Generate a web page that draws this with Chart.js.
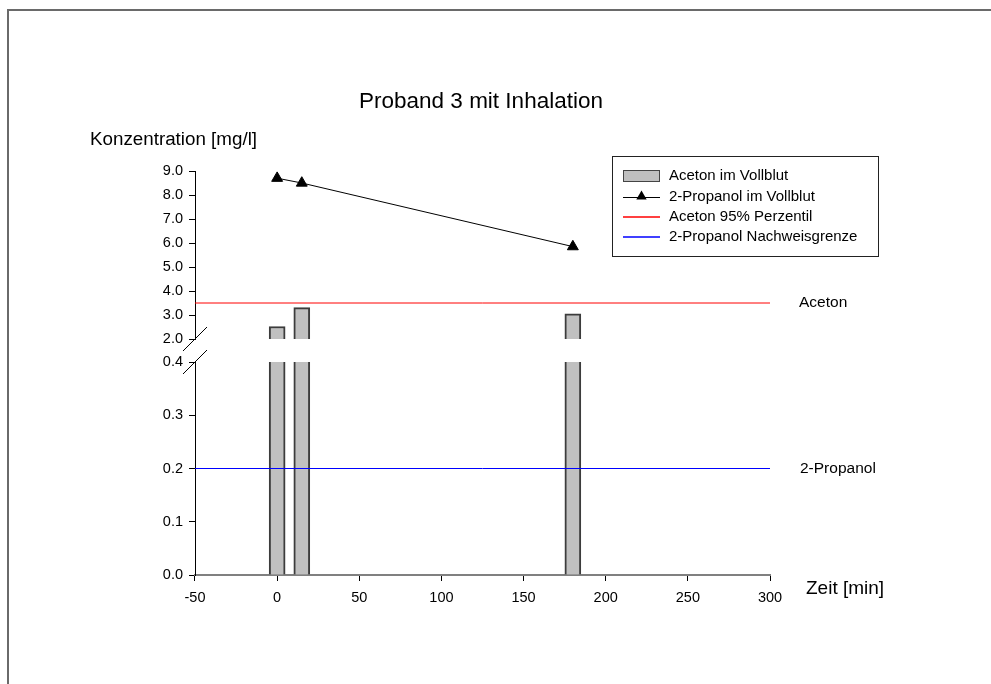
<!DOCTYPE html>
<html>
<head>
<meta charset="utf-8">
<title>Proband 3 mit Inhalation</title>
<script src="https://cdn.jsdelivr.net/npm/chart.js@4.4.0/dist/chart.umd.min.js"></script>
<style>
  html, body { margin: 0; padding: 0; background: #fff; }
  #wrap { position: relative; width: 991px; height: 684px; overflow: hidden; }
</style>
</head>
<body>
<div id="wrap"><canvas id="grafikProband3" width="991" height="684"></canvas></div>
<script>
// Messzeitpunkte und Konzentrationen
const zeitMin = [0, 15, 180];
const acetonVollblut = [2.52, 3.31, 3.05];
const propanolVollblut = [8.7, 8.5, 5.85];
const acetonPerzentil = 3.5;
const propanolGrenze = 0.2;

// Achsenbereiche (y-Achse unterbrochen zwischen 0.4 und 2.0)
const zeitBereich = [-50, 300];
const bereichOben = [2, 9];
const bereichUnten = [0, 0.4];

const legendenText = ['Aceton im Vollblut', '2-Propanol im Vollblut', 'Aceton 95% Perzentil', '2-Propanol Nachweisgrenze'];
const linienText = ['Aceton', '2-Propanol'];

const SCHRIFT = '"Liberation Sans", Arial, sans-serif';
Chart.defaults.font.family = SCHRIFT;
Chart.defaults.color = '#000';

const ROT = '#ff0000';
const BLAU = '#0000ff';

// Balken auf beide Achsenabschnitte verteilen
const balkenOben = zeitMin.map((t, i) => ({ x: t, y: [bereichOben[0], acetonVollblut[i]] }));
const balkenUnten = zeitMin.map((t, i) => ({ x: t, y: [bereichUnten[0], Math.min(acetonVollblut[i], bereichUnten[1])] }));

//Beschriftungen, Achsenbruch und Legende
const beschriftung = {
    id: 'beschriftung',
    afterDraw(chart) {
        const ctx = chart.ctx;
        const { yOben, yUnten } = chart.scales;
        const area = chart.chartArea;
        ctx.save();

        // Rahmen
        ctx.strokeStyle = '#6a6a6a';
        ctx.lineWidth = 2;
        ctx.beginPath();
        ctx.moveTo(8, 684);
        ctx.lineTo(8, 10);
        ctx.lineTo(991, 10);
        ctx.stroke();

        ctx.fillStyle = '#000';
        ctx.textBaseline = 'middle';
        ctx.textAlign = 'center';
        ctx.font = '22.5px ' + SCHRIFT;
        ctx.fillText('Proband 3 mit Inhalation', 481, 102);

        ctx.textAlign = 'left';
        ctx.font = '18.8px ' + SCHRIFT;
        ctx.fillText('Konzentration [mg/l]', 90, 140);
        ctx.font = '19px ' + SCHRIFT;
        ctx.fillText('Zeit [min]', 806, 589);

        ctx.font = '15.5px ' + SCHRIFT;
        ctx.fillText(linienText[0], 799, yOben.getPixelForValue(acetonPerzentil));
        ctx.fillText(linienText[1], 800, yUnten.getPixelForValue(propanolGrenze));

        // Achsenbruch
        ctx.strokeStyle = '#000';
        ctx.lineWidth = 1;
        [yOben.getPixelForValue(bereichOben[0]), yUnten.getPixelForValue(bereichUnten[1])].forEach(y => {
            ctx.beginPath();
            ctx.moveTo(area.left - 12, y + 12);
            ctx.lineTo(area.left + 12, y - 12);
            ctx.stroke();
        });

        // Legende
        const lx = 612, ly = 156;
        ctx.strokeStyle = '#222';
        ctx.strokeRect(lx + 0.5, ly + 0.5, 266, 100);
        const zeilen = [176, 196.5, 216.5, 236.5];
        ctx.font = '15px ' + SCHRIFT;
        ctx.fillStyle = '#000';
        legendenText.forEach((txt, i) => ctx.fillText(txt, 669, zeilen[i]));

        ctx.fillStyle = '#c0c0c0';
        ctx.fillRect(623, zeilen[0] - 6, 37, 12);
        ctx.strokeStyle = '#444';
        ctx.strokeRect(623.5, zeilen[0] - 5.5, 36, 11);

        const farben = ['#000', ROT, BLAU];
        farben.forEach((f, i) => {
            const y = i === 0 ? Math.round(zeilen[1]) + 0.5 : Math.round(zeilen[i + 1]);
            ctx.strokeStyle = f;
            ctx.lineWidth = i === 0 ? 1 : 1.3;
            ctx.beginPath();
            ctx.moveTo(623, y);
            ctx.lineTo(660, y);
            ctx.stroke();
        });
        ctx.fillStyle = '#000';
        ctx.beginPath();
        const r = 6, cx = 641.5, cy = zeilen[1];
        ctx.moveTo(cx, cy - r);
        ctx.lineTo(cx + r * 0.866, cy + r / 2);
        ctx.lineTo(cx - r * 0.866, cy + r / 2);
        ctx.closePath();
        ctx.fill();

        ctx.restore();
    }
};

const tickFont = { size: 14.5, family: SCHRIFT };
const yTicks = (schritt) => ({
    stepSize: schritt,
    color: '#000',
    font: tickFont,
    padding: 6,
    autoSkip: false,
    callback: v => Number(v).toFixed(1)
});
const yGrid = { drawOnChartArea: false, drawTicks: true, tickLength: 6, color: '#000' };

const ctx = document.getElementById('grafikProband3').getContext('2d');
new Chart(ctx, {
    type: 'bar',
    data: {
        datasets: [
            {
                type: 'line',
                label: legendenText[1],
                data: zeitMin.map((t, i) => ({ x: t, y: propanolVollblut[i] })),
                yAxisID: 'yOben',
                borderColor: '#000',
                backgroundColor: '#000',
                borderWidth: 1,
                pointStyle: 'triangle',
                pointRadius: 6.3,
                pointBorderWidth: 1,
                tension: 0
            },
            {
                type: 'line',
                label: legendenText[2],
                data: zeitBereich.map(t => ({ x: t, y: acetonPerzentil })),
                yAxisID: 'yOben',
                borderColor: ROT,
                borderWidth: 1,
                pointRadius: 0
            },
            {
                type: 'line',
                label: legendenText[3],
                data: zeitBereich.map(t => ({ x: t, y: propanolGrenze })),
                yAxisID: 'yUnten',
                borderColor: BLAU,
                borderWidth: 1,
                pointRadius: 0
            },
            {
                label: legendenText[0],
                data: balkenOben,
                yAxisID: 'yOben',
                grouped: false,
                barThickness: 16,
                backgroundColor: '#c0c0c0',
                borderColor: '#3c3c3c',
                borderWidth: { top: 2, left: 2, right: 2, bottom: 0 },
                borderSkipped: false
            },
            {
                label: legendenText[0],
                data: balkenUnten,
                yAxisID: 'yUnten',
                grouped: false,
                barThickness: 16,
                backgroundColor: '#c0c0c0',
                borderColor: '#3c3c3c',
                borderWidth: { top: 0, left: 2, right: 2, bottom: 0 },
                borderSkipped: false
            }
        ]
    },
    options: {
        responsive: false,
        animation: false,
        layout: { padding: { left: 145, right: 221, top: 171, bottom: 74 } },
        plugins: { legend: { display: false }, tooltip: { enabled: false } },
        scales: {
            x: {
                type: 'linear',
                position: 'bottom',
                offset: false,
                min: zeitBereich[0],
                max: zeitBereich[1],
                ticks: { stepSize: 50, color: '#000', font: tickFont, padding: 8, maxRotation: 0 },
                grid: { offset: false, drawOnChartArea: false, drawTicks: true, tickLength: 6, color: '#000' },
                border: { color: '#808080', width: 2 },
                afterFit: s => { s.height = 35; }
            },
            // gestapelte y-Achsen: zuletzt definierte liegt oben
            yUnten: {
                type: 'linear',
                position: 'left',
                stack: 'y',
                stackWeight: 213,
                min: bereichUnten[0],
                max: bereichUnten[1],
                ticks: yTicks(0.1),
                grid: yGrid,
                border: { color: '#000', width: 1 },
                afterFit: s => { s.width = 50; }
            },
            yLuecke: {
                type: 'linear',
                position: 'left',
                stack: 'y',
                stackWeight: 23,
                min: 0,
                max: 1,
                ticks: { display: false },
                grid: { display: false },
                border: { display: false },
                afterFit: s => { s.width = 50; }
            },
            yOben: {
                type: 'linear',
                position: 'left',
                stack: 'y',
                stackWeight: 168,
                min: bereichOben[0],
                max: bereichOben[1],
                ticks: yTicks(1),
                grid: yGrid,
                border: { color: '#000', width: 1 },
                afterFit: s => { s.width = 50; }
            }
        }
    },
    plugins: [beschriftung]
});
</script>
</body>
</html>
